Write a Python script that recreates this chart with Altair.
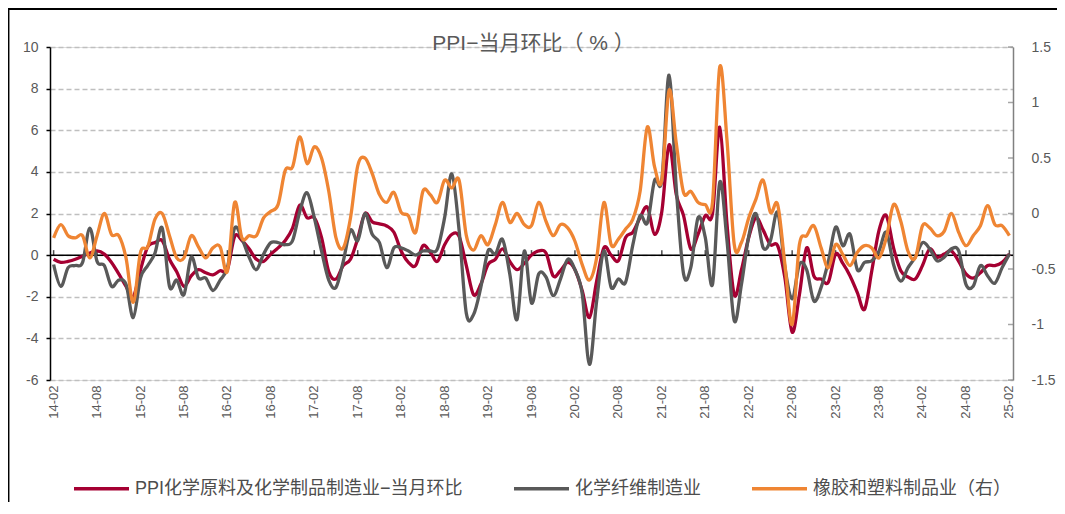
import altair as alt
import pandas as pd

# ---- categories (monthly, 2014-02 .. 2025-02) ----
months = []
yy, mm = 2014, 2
while (yy, mm) <= (2025, 2):
    months.append(f"{yy % 100:02d}-{mm:02d}")
    mm += 1
    if mm > 12:
        mm = 1
        yy += 1
tick_labels = months[::6]

series_names = ["PPI化学原料及化学制品制造业−当月环比", "化学纤维制造业", "橡胶和塑料制品业（右）"]
series_colors = ["#A50032", "#595959", "#EF8533"]

# ---- values ----
ppi_chem = [
    -0.2, -0.35, -0.3, -0.2, -0.05, 0.1, 0.2, 0.05, -0.35, -0.9, -1.5, -2.0,
    -0.7, 0.4, 0.6, 0.7, -0.2, -0.8, -1.5, -1.0, -0.7, -0.85, -0.95, -0.75,
    -0.7, 0.9, 0.7, 0.3, -0.2, -0.3, 0.05, 0.35, 0.7, 1.3, 2.4, 1.8,
    1.8, 0.85, -0.8, -1.15, -0.5, -0.2, 0.8, 2.0, 1.6, 1.5, 1.4, 1.1,
    0.2, -0.35, -0.5, 0.45, 0.15, -0.3, 0.5, 1.0, 0.9, -0.5, -1.9, -1.4,
    -0.45, -0.2, 0.3, -0.3, -0.7, -0.4, 0.0, 0.2, 0.1, -1.0, -0.75, -0.35,
    -0.7, -1.7, -3.0, -1.25, 0.35, 0.0, -0.27, 0.85, 1.1, 1.8, 2.3, 1.0,
    2.1, 5.3, 2.9, 1.9, 0.3, 1.0, 1.9, 2.0, 6.15, 1.5, -1.9, -0.7,
    0.85, 1.8, 1.2, 0.5, 0.45, -1.1, -3.7, -1.9, 0.35, -1.0, -1.15, -1.3,
    0.05, -0.4, -1.0, -1.8, -2.6, -0.75, 1.2, 1.9, 0.35, -0.75, -1.05, -1.15,
    -0.5, 0.3, -0.1, 0.05, 0.2, -0.3, -0.9, -1.1, -0.85, -0.5, -0.5, -0.35,
    0.05,
]
chem_fiber = [
    -0.45, -1.5, -0.6, -0.5, -0.35, 1.3, -0.3, -0.5, -1.5, -1.2, -1.4, -3.0,
    -1.1, -0.5, 0.1, 1.3, -1.5, -1.2, -1.9, -0.1, -1.1, -1.1, -1.7, -1.2,
    -0.6, 1.3, 0.8, -0.1, -0.7, 0.05, 0.6, 0.6, 0.5, 0.7, 2.1, 3.0,
    1.8, 0.2, -1.2, -1.55, -0.3, 1.2, 0.7, 2.0, 1.0, 0.6, -0.6, 0.35,
    0.35, 0.2, 0.0, 0.2, 0.2, 0.3, 1.8, 3.9, 1.2, -2.8, -2.85, -1.55,
    0.2, 0.05, 0.75, -0.9, -3.1, 0.2, -2.3, -0.9, -1.05, -1.95, -1.15, -0.2,
    -0.7, -1.85, -5.25, -2.2, 0.2, -1.55, -1.15, -1.3, 0.5, 1.9, 1.55, 3.6,
    3.6, 8.65, 3.2, -0.9, -0.6, 1.8, 0.85, -1.4, 3.5, 0.7, -3.15, -1.4,
    0.9, 2.0, 0.35, 0.7, 2.05, -0.6, -2.1, -0.45, -0.7, -2.2, -1.55, -0.3,
    1.35, 0.45, 1.0, -0.7, -0.35, -0.27, 0.2, 1.1, -0.45, -1.25, -0.6, -0.1,
    0.6, 0.3, -0.27, -0.1, 0.3, 0.2, -1.4, -1.5, -0.5, -1.0, -1.35, -0.6,
    0.05,
]
rubber_plastic = [
    -0.22, -0.1, -0.2, -0.22, -0.2, -0.4, -0.2, 0.0, -0.19, -0.2, -0.4, -0.8,
    -0.35, -0.3, -0.05, 0.0, -0.2, -0.4, -0.4, -0.2, -0.3, -0.4, -0.31, -0.3,
    -0.52, 0.1, -0.22, -0.2, -0.2, -0.04, 0.02, 0.08, 0.39, 0.42, 0.69, 0.45,
    0.6, 0.5, 0.2, -0.22, -0.31, -0.04, 0.43, 0.5, 0.36, 0.17, 0.1, 0.19,
    0.01, -0.02, -0.17, 0.2, 0.17, 0.1, 0.3, 0.23, 0.3, -0.2, -0.33, -0.2,
    -0.28, -0.1, 0.1, -0.08, 0.0, -0.1, -0.11, 0.1, -0.07, -0.2, -0.1, -0.13,
    -0.25, -0.46, -0.6, -0.4, 0.1, -0.28, -0.23, -0.14, -0.05, 0.2, 0.78, 0.42,
    0.3, 1.11, 0.63, 0.19, 0.2, 0.1, 0.08, 0.1, 1.32, 0.66, -0.28, -0.26,
    -0.04, 0.13, 0.3, 0.01, 0.08, -0.46, -1.0, -0.28, -0.2, -0.11, -0.31, -0.49,
    -0.28, -0.37, -0.47, -0.35, -0.29, -0.31, -0.4, -0.22, 0.08, -0.07, -0.34, -0.4,
    -0.11, -0.13, -0.2, -0.16, 0.0, -0.17, -0.29, -0.2, -0.11, 0.07, -0.1, -0.11,
    -0.2,
]
left_ticks = [-6, -4, -2, 0, 2, 4, 6, 8, 10]
right_ticks = [-1.5, -1, -0.5, 0, 0.5, 1, 1.5]
chart_title = "PPI−当月环比（ % ）"

# ---- tables ----
left_df = pd.concat([
    pd.DataFrame({"month": months, "series": series_names[0], "value": ppi_chem}),
    pd.DataFrame({"month": months, "series": series_names[1], "value": chem_fiber}),
])
right_df = pd.DataFrame({"month": months, "series": series_names[2], "value": rubber_plastic})
tick_df = pd.DataFrame({"month": tick_labels})
rtick_df = pd.DataFrame({"value": right_ticks})
one_df = pd.DataFrame({"t": [chart_title]})

FONT = "Liberation Sans, Noto Sans CJK SC, sans-serif"
W, H = 963, 333

x_enc = alt.X(
    "month:O",
    sort=months,
    scale=alt.Scale(domain=months, padding=0),
    title=None,
    axis=alt.Axis(
        values=tick_labels, labelAngle=-90, labelAlign="right", labelBaseline="middle",
        labelPadding=5, labelFontSize=13, labelColor="#595959", labelFont=FONT,
        domain=False, ticks=False, grid=False,
    ),
)

color_enc = alt.Color(
    "series:N",
    scale=alt.Scale(domain=series_names, range=series_colors),
    legend=alt.Legend(
        title=None, orient="none", legendX=22, legendY=412, direction="horizontal",
        columns=3, columnPadding=44, labelFontSize=18, labelColor="#4d4d4d",
        labelFont=FONT, labelLimit=600, symbolType="stroke", symbolSize=3025,
        symbolStrokeWidth=3.5, labelOffset=4,
    ),
)

y_left = alt.Y(
    "value:Q",
    scale=alt.Scale(domain=[-6, 10], nice=False, zero=False),
    title=None,
    axis=alt.Axis(
        orient="left", values=left_ticks, labelExpr="'' + datum.value",
        labelFontSize=14, labelColor="#595959", labelFont=FONT, labelPadding=8,
        domainColor="#000000", domainWidth=1.5, tickColor="#000000", tickSize=4, tickWidth=1.5,
        grid=True, gridColor="#BFBFBF", gridDash=[5, 3], gridWidth=1.3,
    ),
)
y_right = alt.Y(
    "value:Q",
    scale=alt.Scale(domain=[-1.5, 1.5], nice=False, zero=False),
    title=None,
    axis=alt.Axis(
        orient="right", values=right_ticks, labelExpr="'' + datum.value",
        labelFontSize=14, labelColor="#595959", labelFont=FONT, labelPadding=18,
        domainColor="#808080", domainWidth=1.5, tickSize=0, grid=False,
    ),
)

zero_rule = alt.Chart(one_df).mark_rule(color="#000000", strokeWidth=1.5).encode(
    y=alt.datum(0, type="quantitative", scale=alt.Scale(domain=[-6, 10], nice=False, zero=False))
)
zero_ticks = alt.Chart(tick_df).mark_tick(
    orient="vertical", size=5, thickness=1.5, color="#000000", yOffset=-2.5
).encode(x=x_enc, y=alt.datum(0, type="quantitative"))

line_chem = alt.Chart(left_df[left_df.series == series_names[0]]).mark_line(
    strokeWidth=3.3, interpolate="cardinal"
).encode(x=x_enc, y=y_left, color=color_enc)
line_fiber = alt.Chart(left_df[left_df.series == series_names[1]]).mark_line(
    strokeWidth=3.3, interpolate="cardinal"
).encode(x=x_enc, y=y_left, color=color_enc)

title_text = alt.Chart(one_df).mark_text(
    fontSize=21, color="#595959", font=FONT, baseline="middle", align="center"
).encode(text="t:N", x=alt.value(W / 2 + 2), y=alt.value(-3))

top_border = alt.Chart(one_df).mark_rule(color="#000000", strokeWidth=2).encode(
    x=alt.value(-42), x2=alt.value(W + 44), y=alt.value(-38)
)
left_border = alt.Chart(one_df).mark_rule(color="#000000", strokeWidth=1.5).encode(
    x=alt.value(-41.3), y=alt.value(-38), y2=alt.value(H + 130)
)

left_layer = alt.layer(zero_rule, zero_ticks, line_chem, line_fiber, title_text, top_border, left_border)

line_rubber = alt.Chart(right_df).mark_line(
    strokeWidth=3.3, interpolate="cardinal"
).encode(x=x_enc, y=y_right, color=color_enc)
right_ticks_mark = alt.Chart(rtick_df).mark_tick(
    orient="horizontal", size=5, thickness=1.5, color="#808080", xOffset=-2.5
).encode(x=alt.value(W), y=alt.Y("value:Q", scale=alt.Scale(domain=[-1.5, 1.5], nice=False, zero=False)))

right_layer = alt.layer(right_ticks_mark, line_rubber)

chart = alt.layer(left_layer, right_layer).resolve_scale(y="independent").properties(
    width=W, height=H,
    padding={"left": 42, "top": 39, "right": 44, "bottom": 122},
    autosize=alt.AutoSizeParams(type="none"),
).configure_view(stroke=None).configure(background="white")

chart.save("out.html", embed_options={"renderer": "svg", "actions": False})
